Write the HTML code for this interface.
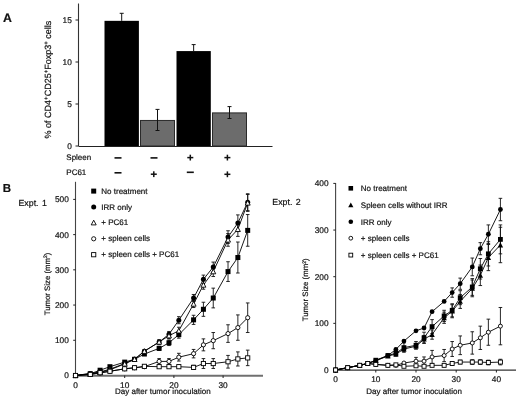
<!DOCTYPE html>
<html><head><meta charset="utf-8"><style>
html,body{margin:0;padding:0;background:#fff;}
body{width:520px;height:399px;overflow:hidden;}
svg{display:block;filter:blur(0.3px);}
text{font-family:"Liberation Sans", sans-serif;stroke:#111;stroke-width:0.2px;text-rendering:geometricPrecision;}
</style></head><body>
<svg width="520" height="399" viewBox="0 0 520 399">
<rect width="520" height="399" fill="#fff"/>
<text x="3" y="21.8" font-size="12.3" font-weight="bold" fill="#111">A</text>
<line x1="78.5" y1="3.5" x2="78.5" y2="146.0" stroke="#333" stroke-width="1.1"/>
<line x1="78.5" y1="146.5" x2="272.5" y2="146.5" stroke="#222" stroke-width="1"/>
<line x1="75.5" y1="146" x2="78.5" y2="146" stroke="#222" stroke-width="1"/>
<text x="71.8" y="149" font-size="8.3" text-anchor="end" fill="#111">0</text>
<line x1="75.5" y1="104" x2="78.5" y2="104" stroke="#222" stroke-width="1"/>
<text x="71.8" y="107" font-size="8.3" text-anchor="end" fill="#111">5</text>
<line x1="75.5" y1="62" x2="78.5" y2="62" stroke="#222" stroke-width="1"/>
<text x="71.8" y="65" font-size="8.3" text-anchor="end" fill="#111">10</text>
<line x1="75.5" y1="20" x2="78.5" y2="20" stroke="#222" stroke-width="1"/>
<text x="71.8" y="23" font-size="8.3" text-anchor="end" fill="#111">15</text>
<rect x="104.5" y="20.84" width="34.4" height="125.16" fill="#000"/>
<line x1="121.7" y1="13.3" x2="121.7" y2="20.84" stroke="#111" stroke-width="1"/>
<line x1="119.7" y1="13.3" x2="123.7" y2="13.3" stroke="#111" stroke-width="1"/>
<rect x="140.5" y="120.46" width="34" height="25.54" fill="#6c6c6c" stroke="#2a2a2a" stroke-width="1"/>
<line x1="157.5" y1="109.4" x2="157.5" y2="130.5" stroke="#111" stroke-width="1"/>
<line x1="155.5" y1="109.4" x2="159.5" y2="109.4" stroke="#111" stroke-width="1"/>
<line x1="155.5" y1="130.5" x2="159.5" y2="130.5" stroke="#111" stroke-width="1"/>
<rect x="176.5" y="51.08" width="34.3" height="94.92" fill="#000"/>
<line x1="193.65" y1="44.6" x2="193.65" y2="51.08" stroke="#111" stroke-width="1"/>
<line x1="191.65" y1="44.6" x2="195.65" y2="44.6" stroke="#111" stroke-width="1"/>
<rect x="212.5" y="112.9" width="34" height="33.1" fill="#6c6c6c" stroke="#2a2a2a" stroke-width="1"/>
<line x1="229.5" y1="106.6" x2="229.5" y2="118.5" stroke="#111" stroke-width="1"/>
<line x1="227.5" y1="106.6" x2="231.5" y2="106.6" stroke="#111" stroke-width="1"/>
<line x1="227.5" y1="118.5" x2="231.5" y2="118.5" stroke="#111" stroke-width="1"/>
<text transform="translate(51,138.4) rotate(-90)" font-size="9" fill="#111">% of CD4<tspan dy="-3.4" font-size="6">+</tspan><tspan dy="3.4">CD25</tspan><tspan dy="-3.4" font-size="6">+</tspan><tspan dy="3.4">Foxp3</tspan><tspan dy="-3.4" font-size="6">+</tspan><tspan dy="3.4"> cells</tspan></text>
<text x="66.3" y="160.3" font-size="8" fill="#111">Spleen</text>
<text x="66.3" y="175.4" font-size="8" fill="#111">PC61</text>
<rect x="114.5" y="157.1" width="7" height="1.6" fill="#111"/>
<rect x="150.5" y="157.1" width="7" height="1.6" fill="#111"/>
<rect x="187.3" y="156.85" width="6" height="1.5" fill="#111"/>
<rect x="189.55" y="154.7" width="1.5" height="5.8" fill="#111"/>
<rect x="224.4" y="156.85" width="6" height="1.5" fill="#111"/>
<rect x="226.65" y="154.7" width="1.5" height="5.8" fill="#111"/>
<rect x="114.5" y="172" width="7" height="1.6" fill="#111"/>
<rect x="150.8" y="173.45" width="6" height="1.5" fill="#111"/>
<rect x="153.05" y="171.3" width="1.5" height="5.8" fill="#111"/>
<rect x="186.8" y="171.5" width="7" height="1.6" fill="#111"/>
<rect x="224.4" y="173.55" width="6" height="1.5" fill="#111"/>
<rect x="226.65" y="171.4" width="1.5" height="5.8" fill="#111"/>
<text x="2.7" y="191.9" font-size="11.5" font-weight="bold" fill="#111">B</text>
<line x1="75.5" y1="181.8" x2="75.5" y2="375.5" stroke="#444" stroke-width="1.1"/>
<line x1="75.5" y1="375.7" x2="263" y2="375.7" stroke="#707070" stroke-width="2.0"/>
<line x1="73.2" y1="375.5" x2="75.5" y2="375.5" stroke="#222" stroke-width="1"/>
<text x="68.8" y="378.4" font-size="8.3" text-anchor="end" fill="#111">0</text>
<line x1="73.2" y1="340.28" x2="75.5" y2="340.28" stroke="#222" stroke-width="1"/>
<text x="68.8" y="343.18" font-size="8.3" text-anchor="end" fill="#111">100</text>
<line x1="73.2" y1="305.06" x2="75.5" y2="305.06" stroke="#222" stroke-width="1"/>
<text x="68.8" y="307.96" font-size="8.3" text-anchor="end" fill="#111">200</text>
<line x1="73.2" y1="269.84" x2="75.5" y2="269.84" stroke="#222" stroke-width="1"/>
<text x="68.8" y="272.74" font-size="8.3" text-anchor="end" fill="#111">300</text>
<line x1="73.2" y1="234.62" x2="75.5" y2="234.62" stroke="#222" stroke-width="1"/>
<text x="68.8" y="237.52" font-size="8.3" text-anchor="end" fill="#111">400</text>
<line x1="73.2" y1="199.4" x2="75.5" y2="199.4" stroke="#222" stroke-width="1"/>
<text x="68.8" y="202.3" font-size="8.3" text-anchor="end" fill="#111">500</text>
<line x1="75.5" y1="375.5" x2="75.5" y2="378.0" stroke="#222" stroke-width="1"/>
<text x="75.5" y="388.1" font-size="8.3" text-anchor="middle" fill="#111">0</text>
<line x1="124.7" y1="375.5" x2="124.7" y2="378.0" stroke="#222" stroke-width="1"/>
<text x="124.7" y="388.1" font-size="8.3" text-anchor="middle" fill="#111">10</text>
<line x1="173.9" y1="375.5" x2="173.9" y2="378.0" stroke="#222" stroke-width="1"/>
<text x="173.9" y="388.1" font-size="8.3" text-anchor="middle" fill="#111">20</text>
<line x1="223.1" y1="375.5" x2="223.1" y2="378.0" stroke="#222" stroke-width="1"/>
<text x="223.1" y="388.1" font-size="8.3" text-anchor="middle" fill="#111">30</text>
<line x1="144.38" y1="352.61" x2="144.38" y2="355.42" stroke="#111" stroke-width="0.9"/>
<line x1="142.58" y1="352.61" x2="146.18" y2="352.61" stroke="#111" stroke-width="0.9"/>
<line x1="142.58" y1="355.42" x2="146.18" y2="355.42" stroke="#111" stroke-width="0.9"/>
<line x1="159.14" y1="346.27" x2="159.14" y2="350.49" stroke="#111" stroke-width="0.9"/>
<line x1="157.34" y1="346.27" x2="160.94" y2="346.27" stroke="#111" stroke-width="0.9"/>
<line x1="157.34" y1="350.49" x2="160.94" y2="350.49" stroke="#111" stroke-width="0.9"/>
<line x1="168.98" y1="339.93" x2="168.98" y2="345.56" stroke="#111" stroke-width="0.9"/>
<line x1="167.18" y1="339.93" x2="170.78" y2="339.93" stroke="#111" stroke-width="0.9"/>
<line x1="167.18" y1="345.56" x2="170.78" y2="345.56" stroke="#111" stroke-width="0.9"/>
<line x1="178.82" y1="331.12" x2="178.82" y2="338.17" stroke="#111" stroke-width="0.9"/>
<line x1="177.02" y1="331.12" x2="180.62" y2="331.12" stroke="#111" stroke-width="0.9"/>
<line x1="177.02" y1="338.17" x2="180.62" y2="338.17" stroke="#111" stroke-width="0.9"/>
<line x1="193.58" y1="315.27" x2="193.58" y2="324.43" stroke="#111" stroke-width="0.9"/>
<line x1="191.78" y1="315.27" x2="195.38" y2="315.27" stroke="#111" stroke-width="0.9"/>
<line x1="191.78" y1="324.43" x2="195.38" y2="324.43" stroke="#111" stroke-width="0.9"/>
<line x1="203.42" y1="302.24" x2="203.42" y2="316.33" stroke="#111" stroke-width="0.9"/>
<line x1="201.62" y1="302.24" x2="205.22" y2="302.24" stroke="#111" stroke-width="0.9"/>
<line x1="201.62" y1="316.33" x2="205.22" y2="316.33" stroke="#111" stroke-width="0.9"/>
<line x1="213.26" y1="288.15" x2="213.26" y2="307.88" stroke="#111" stroke-width="0.9"/>
<line x1="211.46" y1="288.15" x2="215.06" y2="288.15" stroke="#111" stroke-width="0.9"/>
<line x1="211.46" y1="307.88" x2="215.06" y2="307.88" stroke="#111" stroke-width="0.9"/>
<line x1="228.02" y1="261.74" x2="228.02" y2="281.46" stroke="#111" stroke-width="0.9"/>
<line x1="226.22" y1="261.74" x2="229.82" y2="261.74" stroke="#111" stroke-width="0.9"/>
<line x1="226.22" y1="281.46" x2="229.82" y2="281.46" stroke="#111" stroke-width="0.9"/>
<line x1="237.86" y1="242.02" x2="237.86" y2="273.01" stroke="#111" stroke-width="0.9"/>
<line x1="236.06" y1="242.02" x2="239.66" y2="242.02" stroke="#111" stroke-width="0.9"/>
<line x1="236.06" y1="273.01" x2="239.66" y2="273.01" stroke="#111" stroke-width="0.9"/>
<line x1="247.7" y1="214.54" x2="247.7" y2="246.24" stroke="#111" stroke-width="0.9"/>
<line x1="245.9" y1="214.54" x2="249.5" y2="214.54" stroke="#111" stroke-width="0.9"/>
<line x1="245.9" y1="246.24" x2="249.5" y2="246.24" stroke="#111" stroke-width="0.9"/>
<line x1="144.38" y1="349.79" x2="144.38" y2="352.61" stroke="#111" stroke-width="0.9"/>
<line x1="142.58" y1="349.79" x2="146.18" y2="349.79" stroke="#111" stroke-width="0.9"/>
<line x1="142.58" y1="352.61" x2="146.18" y2="352.61" stroke="#111" stroke-width="0.9"/>
<line x1="159.14" y1="339.93" x2="159.14" y2="344.15" stroke="#111" stroke-width="0.9"/>
<line x1="157.34" y1="339.93" x2="160.94" y2="339.93" stroke="#111" stroke-width="0.9"/>
<line x1="157.34" y1="344.15" x2="160.94" y2="344.15" stroke="#111" stroke-width="0.9"/>
<line x1="168.98" y1="331.48" x2="168.98" y2="337.11" stroke="#111" stroke-width="0.9"/>
<line x1="167.18" y1="331.48" x2="170.78" y2="331.48" stroke="#111" stroke-width="0.9"/>
<line x1="167.18" y1="337.11" x2="170.78" y2="337.11" stroke="#111" stroke-width="0.9"/>
<line x1="178.82" y1="316.68" x2="178.82" y2="323.73" stroke="#111" stroke-width="0.9"/>
<line x1="177.02" y1="316.68" x2="180.62" y2="316.68" stroke="#111" stroke-width="0.9"/>
<line x1="177.02" y1="323.73" x2="180.62" y2="323.73" stroke="#111" stroke-width="0.9"/>
<line x1="193.58" y1="294.49" x2="193.58" y2="301.54" stroke="#111" stroke-width="0.9"/>
<line x1="191.78" y1="294.49" x2="195.38" y2="294.49" stroke="#111" stroke-width="0.9"/>
<line x1="191.78" y1="301.54" x2="195.38" y2="301.54" stroke="#111" stroke-width="0.9"/>
<line x1="203.42" y1="275.12" x2="203.42" y2="283.58" stroke="#111" stroke-width="0.9"/>
<line x1="201.62" y1="275.12" x2="205.22" y2="275.12" stroke="#111" stroke-width="0.9"/>
<line x1="201.62" y1="283.58" x2="205.22" y2="283.58" stroke="#111" stroke-width="0.9"/>
<line x1="213.26" y1="262.09" x2="213.26" y2="271.95" stroke="#111" stroke-width="0.9"/>
<line x1="211.46" y1="262.09" x2="215.06" y2="262.09" stroke="#111" stroke-width="0.9"/>
<line x1="211.46" y1="271.95" x2="215.06" y2="271.95" stroke="#111" stroke-width="0.9"/>
<line x1="228.02" y1="230.75" x2="228.02" y2="243.42" stroke="#111" stroke-width="0.9"/>
<line x1="226.22" y1="230.75" x2="229.82" y2="230.75" stroke="#111" stroke-width="0.9"/>
<line x1="226.22" y1="243.42" x2="229.82" y2="243.42" stroke="#111" stroke-width="0.9"/>
<line x1="237.86" y1="214.9" x2="237.86" y2="231.1" stroke="#111" stroke-width="0.9"/>
<line x1="236.06" y1="214.9" x2="239.66" y2="214.9" stroke="#111" stroke-width="0.9"/>
<line x1="236.06" y1="231.1" x2="239.66" y2="231.1" stroke="#111" stroke-width="0.9"/>
<line x1="247.7" y1="193.76" x2="247.7" y2="210.67" stroke="#111" stroke-width="0.9"/>
<line x1="245.9" y1="193.76" x2="249.5" y2="193.76" stroke="#111" stroke-width="0.9"/>
<line x1="245.9" y1="210.67" x2="249.5" y2="210.67" stroke="#111" stroke-width="0.9"/>
<line x1="144.38" y1="349.79" x2="144.38" y2="352.61" stroke="#111" stroke-width="0.9"/>
<line x1="142.58" y1="349.79" x2="146.18" y2="349.79" stroke="#111" stroke-width="0.9"/>
<line x1="142.58" y1="352.61" x2="146.18" y2="352.61" stroke="#111" stroke-width="0.9"/>
<line x1="159.14" y1="339.93" x2="159.14" y2="344.15" stroke="#111" stroke-width="0.9"/>
<line x1="157.34" y1="339.93" x2="160.94" y2="339.93" stroke="#111" stroke-width="0.9"/>
<line x1="157.34" y1="344.15" x2="160.94" y2="344.15" stroke="#111" stroke-width="0.9"/>
<line x1="168.98" y1="332.88" x2="168.98" y2="338.52" stroke="#111" stroke-width="0.9"/>
<line x1="167.18" y1="332.88" x2="170.78" y2="332.88" stroke="#111" stroke-width="0.9"/>
<line x1="167.18" y1="338.52" x2="170.78" y2="338.52" stroke="#111" stroke-width="0.9"/>
<line x1="178.82" y1="327.25" x2="178.82" y2="334.29" stroke="#111" stroke-width="0.9"/>
<line x1="177.02" y1="327.25" x2="180.62" y2="327.25" stroke="#111" stroke-width="0.9"/>
<line x1="177.02" y1="334.29" x2="180.62" y2="334.29" stroke="#111" stroke-width="0.9"/>
<line x1="193.58" y1="300.48" x2="193.58" y2="307.53" stroke="#111" stroke-width="0.9"/>
<line x1="191.78" y1="300.48" x2="195.38" y2="300.48" stroke="#111" stroke-width="0.9"/>
<line x1="191.78" y1="307.53" x2="195.38" y2="307.53" stroke="#111" stroke-width="0.9"/>
<line x1="203.42" y1="280.76" x2="203.42" y2="289.21" stroke="#111" stroke-width="0.9"/>
<line x1="201.62" y1="280.76" x2="205.22" y2="280.76" stroke="#111" stroke-width="0.9"/>
<line x1="201.62" y1="289.21" x2="205.22" y2="289.21" stroke="#111" stroke-width="0.9"/>
<line x1="213.26" y1="266.67" x2="213.26" y2="276.53" stroke="#111" stroke-width="0.9"/>
<line x1="211.46" y1="266.67" x2="215.06" y2="266.67" stroke="#111" stroke-width="0.9"/>
<line x1="211.46" y1="276.53" x2="215.06" y2="276.53" stroke="#111" stroke-width="0.9"/>
<line x1="228.02" y1="233.56" x2="228.02" y2="246.24" stroke="#111" stroke-width="0.9"/>
<line x1="226.22" y1="233.56" x2="229.82" y2="233.56" stroke="#111" stroke-width="0.9"/>
<line x1="226.22" y1="246.24" x2="229.82" y2="246.24" stroke="#111" stroke-width="0.9"/>
<line x1="237.86" y1="222.29" x2="237.86" y2="236.38" stroke="#111" stroke-width="0.9"/>
<line x1="236.06" y1="222.29" x2="239.66" y2="222.29" stroke="#111" stroke-width="0.9"/>
<line x1="236.06" y1="236.38" x2="239.66" y2="236.38" stroke="#111" stroke-width="0.9"/>
<line x1="247.7" y1="194.47" x2="247.7" y2="211.37" stroke="#111" stroke-width="0.9"/>
<line x1="245.9" y1="194.47" x2="249.5" y2="194.47" stroke="#111" stroke-width="0.9"/>
<line x1="245.9" y1="211.37" x2="249.5" y2="211.37" stroke="#111" stroke-width="0.9"/>
<line x1="159.14" y1="358.59" x2="159.14" y2="364.23" stroke="#111" stroke-width="0.9"/>
<line x1="157.34" y1="358.59" x2="160.94" y2="358.59" stroke="#111" stroke-width="0.9"/>
<line x1="157.34" y1="364.23" x2="160.94" y2="364.23" stroke="#111" stroke-width="0.9"/>
<line x1="168.98" y1="358.59" x2="168.98" y2="364.23" stroke="#111" stroke-width="0.9"/>
<line x1="167.18" y1="358.59" x2="170.78" y2="358.59" stroke="#111" stroke-width="0.9"/>
<line x1="167.18" y1="364.23" x2="170.78" y2="364.23" stroke="#111" stroke-width="0.9"/>
<line x1="178.82" y1="353.31" x2="178.82" y2="361.06" stroke="#111" stroke-width="0.9"/>
<line x1="177.02" y1="353.31" x2="180.62" y2="353.31" stroke="#111" stroke-width="0.9"/>
<line x1="177.02" y1="361.06" x2="180.62" y2="361.06" stroke="#111" stroke-width="0.9"/>
<line x1="193.58" y1="349.44" x2="193.58" y2="357.89" stroke="#111" stroke-width="0.9"/>
<line x1="191.78" y1="349.44" x2="195.38" y2="349.44" stroke="#111" stroke-width="0.9"/>
<line x1="191.78" y1="357.89" x2="195.38" y2="357.89" stroke="#111" stroke-width="0.9"/>
<line x1="203.42" y1="338.87" x2="203.42" y2="350.85" stroke="#111" stroke-width="0.9"/>
<line x1="201.62" y1="338.87" x2="205.22" y2="338.87" stroke="#111" stroke-width="0.9"/>
<line x1="201.62" y1="350.85" x2="205.22" y2="350.85" stroke="#111" stroke-width="0.9"/>
<line x1="213.26" y1="332.53" x2="213.26" y2="348.73" stroke="#111" stroke-width="0.9"/>
<line x1="211.46" y1="332.53" x2="215.06" y2="332.53" stroke="#111" stroke-width="0.9"/>
<line x1="211.46" y1="348.73" x2="215.06" y2="348.73" stroke="#111" stroke-width="0.9"/>
<line x1="228.02" y1="324.78" x2="228.02" y2="342.39" stroke="#111" stroke-width="0.9"/>
<line x1="226.22" y1="324.78" x2="229.82" y2="324.78" stroke="#111" stroke-width="0.9"/>
<line x1="226.22" y1="342.39" x2="229.82" y2="342.39" stroke="#111" stroke-width="0.9"/>
<line x1="237.86" y1="314.92" x2="237.86" y2="340.28" stroke="#111" stroke-width="0.9"/>
<line x1="236.06" y1="314.92" x2="239.66" y2="314.92" stroke="#111" stroke-width="0.9"/>
<line x1="236.06" y1="340.28" x2="239.66" y2="340.28" stroke="#111" stroke-width="0.9"/>
<line x1="247.7" y1="302.95" x2="247.7" y2="332.53" stroke="#111" stroke-width="0.9"/>
<line x1="245.9" y1="302.95" x2="249.5" y2="302.95" stroke="#111" stroke-width="0.9"/>
<line x1="245.9" y1="332.53" x2="249.5" y2="332.53" stroke="#111" stroke-width="0.9"/>
<line x1="159.14" y1="365.64" x2="159.14" y2="367.75" stroke="#111" stroke-width="0.9"/>
<line x1="157.34" y1="365.64" x2="160.94" y2="365.64" stroke="#111" stroke-width="0.9"/>
<line x1="157.34" y1="367.75" x2="160.94" y2="367.75" stroke="#111" stroke-width="0.9"/>
<line x1="168.98" y1="365.29" x2="168.98" y2="368.1" stroke="#111" stroke-width="0.9"/>
<line x1="167.18" y1="365.29" x2="170.78" y2="365.29" stroke="#111" stroke-width="0.9"/>
<line x1="167.18" y1="368.1" x2="170.78" y2="368.1" stroke="#111" stroke-width="0.9"/>
<line x1="178.82" y1="364.93" x2="178.82" y2="368.46" stroke="#111" stroke-width="0.9"/>
<line x1="177.02" y1="364.93" x2="180.62" y2="364.93" stroke="#111" stroke-width="0.9"/>
<line x1="177.02" y1="368.46" x2="180.62" y2="368.46" stroke="#111" stroke-width="0.9"/>
<line x1="193.58" y1="365.29" x2="193.58" y2="369.51" stroke="#111" stroke-width="0.9"/>
<line x1="191.78" y1="365.29" x2="195.38" y2="365.29" stroke="#111" stroke-width="0.9"/>
<line x1="191.78" y1="369.51" x2="195.38" y2="369.51" stroke="#111" stroke-width="0.9"/>
<line x1="203.42" y1="358.59" x2="203.42" y2="368.46" stroke="#111" stroke-width="0.9"/>
<line x1="201.62" y1="358.59" x2="205.22" y2="358.59" stroke="#111" stroke-width="0.9"/>
<line x1="201.62" y1="368.46" x2="205.22" y2="368.46" stroke="#111" stroke-width="0.9"/>
<line x1="213.26" y1="358.59" x2="213.26" y2="368.46" stroke="#111" stroke-width="0.9"/>
<line x1="211.46" y1="358.59" x2="215.06" y2="358.59" stroke="#111" stroke-width="0.9"/>
<line x1="211.46" y1="368.46" x2="215.06" y2="368.46" stroke="#111" stroke-width="0.9"/>
<line x1="228.02" y1="355.42" x2="228.02" y2="368.1" stroke="#111" stroke-width="0.9"/>
<line x1="226.22" y1="355.42" x2="229.82" y2="355.42" stroke="#111" stroke-width="0.9"/>
<line x1="226.22" y1="368.1" x2="229.82" y2="368.1" stroke="#111" stroke-width="0.9"/>
<line x1="237.86" y1="351.9" x2="237.86" y2="365.99" stroke="#111" stroke-width="0.9"/>
<line x1="236.06" y1="351.9" x2="239.66" y2="351.9" stroke="#111" stroke-width="0.9"/>
<line x1="236.06" y1="365.99" x2="239.66" y2="365.99" stroke="#111" stroke-width="0.9"/>
<line x1="247.7" y1="350.14" x2="247.7" y2="365.64" stroke="#111" stroke-width="0.9"/>
<line x1="245.9" y1="350.14" x2="249.5" y2="350.14" stroke="#111" stroke-width="0.9"/>
<line x1="245.9" y1="365.64" x2="249.5" y2="365.64" stroke="#111" stroke-width="0.9"/>
<polyline points="75.5,375.5 90.26,373.74 100.1,370.22 109.94,366.69 124.7,362.12 134.54,359.3 144.38,354.02 159.14,348.38 168.98,342.75 178.82,334.64 193.58,319.85 203.42,309.29 213.26,298.02 228.02,271.6 237.86,257.51 247.7,230.39" fill="none" stroke="#000" stroke-width="0.9"/>
<polyline points="75.5,375.5 90.26,373.39 100.1,371.98 109.94,369.16 124.7,363.53 134.54,359.3 144.38,351.2 159.14,342.04 168.98,334.29 178.82,320.2 193.58,298.02 203.42,279.35 213.26,267.02 228.02,237.09 237.86,223 247.7,202.22" fill="none" stroke="#000" stroke-width="0.9"/>
<polyline points="75.5,375.5 90.26,374.09 100.1,372.33 109.94,369.86 124.7,363.88 134.54,359.3 144.38,351.2 159.14,342.04 168.98,335.7 178.82,330.77 193.58,304 203.42,284.98 213.26,271.6 228.02,239.9 237.86,229.34 247.7,202.92" fill="none" stroke="#000" stroke-width="0.9"/>
<polyline points="75.5,375.5 90.26,374.44 100.1,373.03 109.94,371.27 124.7,368.81 134.54,367.75 144.38,366.69 159.14,361.41 168.98,361.41 178.82,357.19 193.58,353.66 203.42,344.86 213.26,340.63 228.02,333.59 237.86,327.6 247.7,317.74" fill="none" stroke="#000" stroke-width="0.9"/>
<polyline points="75.5,375.5 90.26,374.44 100.1,372.68 109.94,371.27 124.7,368.81 134.54,367.75 144.38,366.34 159.14,366.69 168.98,366.69 178.82,366.69 193.58,367.4 203.42,363.53 213.26,363.53 228.02,361.76 237.86,358.95 247.7,357.89" fill="none" stroke="#000" stroke-width="0.9"/>
<rect x="73" y="373" width="5" height="5" fill="#000"/>
<rect x="87.76" y="371.24" width="5" height="5" fill="#000"/>
<rect x="97.6" y="367.72" width="5" height="5" fill="#000"/>
<rect x="107.44" y="364.19" width="5" height="5" fill="#000"/>
<rect x="122.2" y="359.62" width="5" height="5" fill="#000"/>
<rect x="132.04" y="356.8" width="5" height="5" fill="#000"/>
<rect x="141.88" y="351.52" width="5" height="5" fill="#000"/>
<rect x="156.64" y="345.88" width="5" height="5" fill="#000"/>
<rect x="166.48" y="340.25" width="5" height="5" fill="#000"/>
<rect x="176.32" y="332.14" width="5" height="5" fill="#000"/>
<rect x="191.08" y="317.35" width="5" height="5" fill="#000"/>
<rect x="200.92" y="306.79" width="5" height="5" fill="#000"/>
<rect x="210.76" y="295.52" width="5" height="5" fill="#000"/>
<rect x="225.52" y="269.1" width="5" height="5" fill="#000"/>
<rect x="235.36" y="255.01" width="5" height="5" fill="#000"/>
<rect x="245.2" y="227.89" width="5" height="5" fill="#000"/>
<circle cx="75.5" cy="375.5" r="2.5" fill="#000"/>
<circle cx="90.26" cy="373.39" r="2.5" fill="#000"/>
<circle cx="100.1" cy="371.98" r="2.5" fill="#000"/>
<circle cx="109.94" cy="369.16" r="2.5" fill="#000"/>
<circle cx="124.7" cy="363.53" r="2.5" fill="#000"/>
<circle cx="134.54" cy="359.3" r="2.5" fill="#000"/>
<circle cx="144.38" cy="351.2" r="2.5" fill="#000"/>
<circle cx="159.14" cy="342.04" r="2.5" fill="#000"/>
<circle cx="168.98" cy="334.29" r="2.5" fill="#000"/>
<circle cx="178.82" cy="320.2" r="2.5" fill="#000"/>
<circle cx="193.58" cy="298.02" r="2.5" fill="#000"/>
<circle cx="203.42" cy="279.35" r="2.5" fill="#000"/>
<circle cx="213.26" cy="267.02" r="2.5" fill="#000"/>
<circle cx="228.02" cy="237.09" r="2.5" fill="#000"/>
<circle cx="237.86" cy="223" r="2.5" fill="#000"/>
<circle cx="247.7" cy="202.22" r="2.5" fill="#000"/>
<path d="M75.5,373 L78,377.7 L73,377.7 Z" fill="#fff" stroke="#000" stroke-width="0.9"/>
<path d="M90.26,371.59 L92.76,376.29 L87.76,376.29 Z" fill="#fff" stroke="#000" stroke-width="0.9"/>
<path d="M100.1,369.83 L102.6,374.53 L97.6,374.53 Z" fill="#fff" stroke="#000" stroke-width="0.9"/>
<path d="M109.94,367.36 L112.44,372.06 L107.44,372.06 Z" fill="#fff" stroke="#000" stroke-width="0.9"/>
<path d="M124.7,361.38 L127.2,366.08 L122.2,366.08 Z" fill="#fff" stroke="#000" stroke-width="0.9"/>
<path d="M134.54,356.8 L137.04,361.5 L132.04,361.5 Z" fill="#fff" stroke="#000" stroke-width="0.9"/>
<path d="M144.38,348.7 L146.88,353.4 L141.88,353.4 Z" fill="#fff" stroke="#000" stroke-width="0.9"/>
<path d="M159.14,339.54 L161.64,344.24 L156.64,344.24 Z" fill="#fff" stroke="#000" stroke-width="0.9"/>
<path d="M168.98,333.2 L171.48,337.9 L166.48,337.9 Z" fill="#fff" stroke="#000" stroke-width="0.9"/>
<path d="M178.82,328.27 L181.32,332.97 L176.32,332.97 Z" fill="#fff" stroke="#000" stroke-width="0.9"/>
<path d="M193.58,301.5 L196.08,306.2 L191.08,306.2 Z" fill="#fff" stroke="#000" stroke-width="0.9"/>
<path d="M203.42,282.48 L205.92,287.18 L200.92,287.18 Z" fill="#fff" stroke="#000" stroke-width="0.9"/>
<path d="M213.26,269.1 L215.76,273.8 L210.76,273.8 Z" fill="#fff" stroke="#000" stroke-width="0.9"/>
<path d="M228.02,237.4 L230.52,242.1 L225.52,242.1 Z" fill="#fff" stroke="#000" stroke-width="0.9"/>
<path d="M237.86,226.84 L240.36,231.54 L235.36,231.54 Z" fill="#fff" stroke="#000" stroke-width="0.9"/>
<path d="M247.7,200.42 L250.2,205.12 L245.2,205.12 Z" fill="#fff" stroke="#000" stroke-width="0.9"/>
<circle cx="75.5" cy="375.5" r="2.1" fill="#fff" stroke="#000" stroke-width="0.9"/>
<circle cx="90.26" cy="374.44" r="2.1" fill="#fff" stroke="#000" stroke-width="0.9"/>
<circle cx="100.1" cy="373.03" r="2.1" fill="#fff" stroke="#000" stroke-width="0.9"/>
<circle cx="109.94" cy="371.27" r="2.1" fill="#fff" stroke="#000" stroke-width="0.9"/>
<circle cx="124.7" cy="368.81" r="2.1" fill="#fff" stroke="#000" stroke-width="0.9"/>
<circle cx="134.54" cy="367.75" r="2.1" fill="#fff" stroke="#000" stroke-width="0.9"/>
<circle cx="144.38" cy="366.69" r="2.1" fill="#fff" stroke="#000" stroke-width="0.9"/>
<circle cx="159.14" cy="361.41" r="2.1" fill="#fff" stroke="#000" stroke-width="0.9"/>
<circle cx="168.98" cy="361.41" r="2.1" fill="#fff" stroke="#000" stroke-width="0.9"/>
<circle cx="178.82" cy="357.19" r="2.1" fill="#fff" stroke="#000" stroke-width="0.9"/>
<circle cx="193.58" cy="353.66" r="2.1" fill="#fff" stroke="#000" stroke-width="0.9"/>
<circle cx="203.42" cy="344.86" r="2.1" fill="#fff" stroke="#000" stroke-width="0.9"/>
<circle cx="213.26" cy="340.63" r="2.1" fill="#fff" stroke="#000" stroke-width="0.9"/>
<circle cx="228.02" cy="333.59" r="2.1" fill="#fff" stroke="#000" stroke-width="0.9"/>
<circle cx="237.86" cy="327.6" r="2.1" fill="#fff" stroke="#000" stroke-width="0.9"/>
<circle cx="247.7" cy="317.74" r="2.1" fill="#fff" stroke="#000" stroke-width="0.9"/>
<rect x="73.4" y="373.4" width="4.2" height="4.2" fill="#fff" stroke="#000" stroke-width="0.9"/>
<rect x="88.16" y="372.34" width="4.2" height="4.2" fill="#fff" stroke="#000" stroke-width="0.9"/>
<rect x="98" y="370.58" width="4.2" height="4.2" fill="#fff" stroke="#000" stroke-width="0.9"/>
<rect x="107.84" y="369.17" width="4.2" height="4.2" fill="#fff" stroke="#000" stroke-width="0.9"/>
<rect x="122.6" y="366.71" width="4.2" height="4.2" fill="#fff" stroke="#000" stroke-width="0.9"/>
<rect x="132.44" y="365.65" width="4.2" height="4.2" fill="#fff" stroke="#000" stroke-width="0.9"/>
<rect x="142.28" y="364.24" width="4.2" height="4.2" fill="#fff" stroke="#000" stroke-width="0.9"/>
<rect x="157.04" y="364.59" width="4.2" height="4.2" fill="#fff" stroke="#000" stroke-width="0.9"/>
<rect x="166.88" y="364.59" width="4.2" height="4.2" fill="#fff" stroke="#000" stroke-width="0.9"/>
<rect x="176.72" y="364.59" width="4.2" height="4.2" fill="#fff" stroke="#000" stroke-width="0.9"/>
<rect x="191.48" y="365.3" width="4.2" height="4.2" fill="#fff" stroke="#000" stroke-width="0.9"/>
<rect x="201.32" y="361.43" width="4.2" height="4.2" fill="#fff" stroke="#000" stroke-width="0.9"/>
<rect x="211.16" y="361.43" width="4.2" height="4.2" fill="#fff" stroke="#000" stroke-width="0.9"/>
<rect x="225.92" y="359.66" width="4.2" height="4.2" fill="#fff" stroke="#000" stroke-width="0.9"/>
<rect x="235.76" y="356.85" width="4.2" height="4.2" fill="#fff" stroke="#000" stroke-width="0.9"/>
<rect x="245.6" y="355.79" width="4.2" height="4.2" fill="#fff" stroke="#000" stroke-width="0.9"/>
<text transform="translate(49.9,315.3) rotate(-90)" font-size="7.8" fill="#111">Tumor Size (mm<tspan dy="-2.6" font-size="5">2</tspan><tspan dy="2.6">)</tspan></text>
<text x="115" y="394.3" font-size="8" fill="#111">Day after tumor inoculation</text>
<text x="18.5" y="205.8" font-size="8.8" fill="#111">Expt.<tspan dx="3.4">1</tspan></text>
<rect x="91.2" y="188.6" width="5" height="5" fill="#000"/>
<text x="101.3" y="193.7" font-size="8" fill="#111">No treatment</text>
<circle cx="93.7" cy="207" r="2.5" fill="#000"/>
<text x="101.3" y="209.6" font-size="8" fill="#111">IRR only</text>
<path d="M93.7,220.2 L96.2,224.9 L91.2,224.9 Z" fill="#fff" stroke="#000" stroke-width="0.9"/>
<text x="101.3" y="225.3" font-size="8" fill="#111">+ PC61</text>
<circle cx="93.7" cy="238.8" r="2.1" fill="#fff" stroke="#000" stroke-width="0.9"/>
<text x="101.3" y="241.4" font-size="8" fill="#111">+ spleen cells</text>
<rect x="91.6" y="252.6" width="4.2" height="4.2" fill="#fff" stroke="#000" stroke-width="0.9"/>
<text x="101.3" y="257.3" font-size="8" fill="#111">+ spleen cells + PC61</text>
<line x1="335.6" y1="183.0" x2="335.6" y2="370.0" stroke="#444" stroke-width="1.1"/>
<line x1="335.6" y1="370.1" x2="516" y2="370.1" stroke="#333" stroke-width="1.2"/>
<line x1="333.3" y1="370" x2="335.6" y2="370" stroke="#222" stroke-width="1"/>
<text x="328.6" y="372.9" font-size="8.3" text-anchor="end" fill="#111">0</text>
<line x1="333.3" y1="323.35" x2="335.6" y2="323.35" stroke="#222" stroke-width="1"/>
<text x="328.6" y="326.25" font-size="8.3" text-anchor="end" fill="#111">100</text>
<line x1="333.3" y1="276.7" x2="335.6" y2="276.7" stroke="#222" stroke-width="1"/>
<text x="328.6" y="279.6" font-size="8.3" text-anchor="end" fill="#111">200</text>
<line x1="333.3" y1="230.05" x2="335.6" y2="230.05" stroke="#222" stroke-width="1"/>
<text x="328.6" y="232.95" font-size="8.3" text-anchor="end" fill="#111">300</text>
<line x1="333.3" y1="183.4" x2="335.6" y2="183.4" stroke="#222" stroke-width="1"/>
<text x="328.6" y="186.3" font-size="8.3" text-anchor="end" fill="#111">400</text>
<line x1="335.6" y1="370.0" x2="335.6" y2="372.5" stroke="#222" stroke-width="1"/>
<text x="335.6" y="382.3" font-size="8.3" text-anchor="middle" fill="#111">0</text>
<line x1="375.8" y1="370.0" x2="375.8" y2="372.5" stroke="#222" stroke-width="1"/>
<text x="375.8" y="382.3" font-size="8.3" text-anchor="middle" fill="#111">10</text>
<line x1="416" y1="370.0" x2="416" y2="372.5" stroke="#222" stroke-width="1"/>
<text x="416" y="382.3" font-size="8.3" text-anchor="middle" fill="#111">20</text>
<line x1="456.2" y1="370.0" x2="456.2" y2="372.5" stroke="#222" stroke-width="1"/>
<text x="456.2" y="382.3" font-size="8.3" text-anchor="middle" fill="#111">30</text>
<line x1="496.4" y1="370.0" x2="496.4" y2="372.5" stroke="#222" stroke-width="1"/>
<text x="496.4" y="382.3" font-size="8.3" text-anchor="middle" fill="#111">40</text>
<line x1="387.86" y1="354.14" x2="387.86" y2="356.94" stroke="#111" stroke-width="0.9"/>
<line x1="386.06" y1="354.14" x2="389.66" y2="354.14" stroke="#111" stroke-width="0.9"/>
<line x1="386.06" y1="356.94" x2="389.66" y2="356.94" stroke="#111" stroke-width="0.9"/>
<line x1="395.9" y1="350.41" x2="395.9" y2="356" stroke="#111" stroke-width="0.9"/>
<line x1="394.1" y1="350.41" x2="397.7" y2="350.41" stroke="#111" stroke-width="0.9"/>
<line x1="394.1" y1="356" x2="397.7" y2="356" stroke="#111" stroke-width="0.9"/>
<line x1="403.94" y1="342.94" x2="403.94" y2="352.27" stroke="#111" stroke-width="0.9"/>
<line x1="402.14" y1="342.94" x2="405.74" y2="342.94" stroke="#111" stroke-width="0.9"/>
<line x1="402.14" y1="352.27" x2="405.74" y2="352.27" stroke="#111" stroke-width="0.9"/>
<line x1="416" y1="341.54" x2="416" y2="349.01" stroke="#111" stroke-width="0.9"/>
<line x1="414.2" y1="341.54" x2="417.8" y2="341.54" stroke="#111" stroke-width="0.9"/>
<line x1="414.2" y1="349.01" x2="417.8" y2="349.01" stroke="#111" stroke-width="0.9"/>
<line x1="424.04" y1="332.21" x2="424.04" y2="343.41" stroke="#111" stroke-width="0.9"/>
<line x1="422.24" y1="332.21" x2="425.84" y2="332.21" stroke="#111" stroke-width="0.9"/>
<line x1="422.24" y1="343.41" x2="425.84" y2="343.41" stroke="#111" stroke-width="0.9"/>
<line x1="432.08" y1="319.62" x2="432.08" y2="333.61" stroke="#111" stroke-width="0.9"/>
<line x1="430.28" y1="319.62" x2="433.88" y2="319.62" stroke="#111" stroke-width="0.9"/>
<line x1="430.28" y1="333.61" x2="433.88" y2="333.61" stroke="#111" stroke-width="0.9"/>
<line x1="444.14" y1="310.29" x2="444.14" y2="321.48" stroke="#111" stroke-width="0.9"/>
<line x1="442.34" y1="310.29" x2="445.94" y2="310.29" stroke="#111" stroke-width="0.9"/>
<line x1="442.34" y1="321.48" x2="445.94" y2="321.48" stroke="#111" stroke-width="0.9"/>
<line x1="452.18" y1="303.76" x2="452.18" y2="316.82" stroke="#111" stroke-width="0.9"/>
<line x1="450.38" y1="303.76" x2="453.98" y2="303.76" stroke="#111" stroke-width="0.9"/>
<line x1="450.38" y1="316.82" x2="453.98" y2="316.82" stroke="#111" stroke-width="0.9"/>
<line x1="460.22" y1="290.69" x2="460.22" y2="304.69" stroke="#111" stroke-width="0.9"/>
<line x1="458.42" y1="290.69" x2="462.02" y2="290.69" stroke="#111" stroke-width="0.9"/>
<line x1="458.42" y1="304.69" x2="462.02" y2="304.69" stroke="#111" stroke-width="0.9"/>
<line x1="472.28" y1="278.57" x2="472.28" y2="295.36" stroke="#111" stroke-width="0.9"/>
<line x1="470.48" y1="278.57" x2="474.08" y2="278.57" stroke="#111" stroke-width="0.9"/>
<line x1="470.48" y1="295.36" x2="474.08" y2="295.36" stroke="#111" stroke-width="0.9"/>
<line x1="480.32" y1="258.51" x2="480.32" y2="279.03" stroke="#111" stroke-width="0.9"/>
<line x1="478.52" y1="258.51" x2="482.12" y2="258.51" stroke="#111" stroke-width="0.9"/>
<line x1="478.52" y1="279.03" x2="482.12" y2="279.03" stroke="#111" stroke-width="0.9"/>
<line x1="488.36" y1="241.71" x2="488.36" y2="265.97" stroke="#111" stroke-width="0.9"/>
<line x1="486.56" y1="241.71" x2="490.16" y2="241.71" stroke="#111" stroke-width="0.9"/>
<line x1="486.56" y1="265.97" x2="490.16" y2="265.97" stroke="#111" stroke-width="0.9"/>
<line x1="500.42" y1="224.92" x2="500.42" y2="253.84" stroke="#111" stroke-width="0.9"/>
<line x1="498.62" y1="224.92" x2="502.22" y2="224.92" stroke="#111" stroke-width="0.9"/>
<line x1="498.62" y1="253.84" x2="502.22" y2="253.84" stroke="#111" stroke-width="0.9"/>
<line x1="387.86" y1="354.61" x2="387.86" y2="357.4" stroke="#111" stroke-width="0.9"/>
<line x1="386.06" y1="354.61" x2="389.66" y2="354.61" stroke="#111" stroke-width="0.9"/>
<line x1="386.06" y1="357.4" x2="389.66" y2="357.4" stroke="#111" stroke-width="0.9"/>
<line x1="395.9" y1="352.27" x2="395.9" y2="356" stroke="#111" stroke-width="0.9"/>
<line x1="394.1" y1="352.27" x2="397.7" y2="352.27" stroke="#111" stroke-width="0.9"/>
<line x1="394.1" y1="356" x2="397.7" y2="356" stroke="#111" stroke-width="0.9"/>
<line x1="403.94" y1="346.68" x2="403.94" y2="351.34" stroke="#111" stroke-width="0.9"/>
<line x1="402.14" y1="346.68" x2="405.74" y2="346.68" stroke="#111" stroke-width="0.9"/>
<line x1="402.14" y1="351.34" x2="405.74" y2="351.34" stroke="#111" stroke-width="0.9"/>
<line x1="416" y1="343.41" x2="416" y2="349.01" stroke="#111" stroke-width="0.9"/>
<line x1="414.2" y1="343.41" x2="417.8" y2="343.41" stroke="#111" stroke-width="0.9"/>
<line x1="414.2" y1="349.01" x2="417.8" y2="349.01" stroke="#111" stroke-width="0.9"/>
<line x1="424.04" y1="335.48" x2="424.04" y2="342.94" stroke="#111" stroke-width="0.9"/>
<line x1="422.24" y1="335.48" x2="425.84" y2="335.48" stroke="#111" stroke-width="0.9"/>
<line x1="422.24" y1="342.94" x2="425.84" y2="342.94" stroke="#111" stroke-width="0.9"/>
<line x1="432.08" y1="329.88" x2="432.08" y2="339.21" stroke="#111" stroke-width="0.9"/>
<line x1="430.28" y1="329.88" x2="433.88" y2="329.88" stroke="#111" stroke-width="0.9"/>
<line x1="430.28" y1="339.21" x2="433.88" y2="339.21" stroke="#111" stroke-width="0.9"/>
<line x1="444.14" y1="312.15" x2="444.14" y2="323.35" stroke="#111" stroke-width="0.9"/>
<line x1="442.34" y1="312.15" x2="445.94" y2="312.15" stroke="#111" stroke-width="0.9"/>
<line x1="442.34" y1="323.35" x2="445.94" y2="323.35" stroke="#111" stroke-width="0.9"/>
<line x1="452.18" y1="304.69" x2="452.18" y2="317.75" stroke="#111" stroke-width="0.9"/>
<line x1="450.38" y1="304.69" x2="453.98" y2="304.69" stroke="#111" stroke-width="0.9"/>
<line x1="450.38" y1="317.75" x2="453.98" y2="317.75" stroke="#111" stroke-width="0.9"/>
<line x1="460.22" y1="294.43" x2="460.22" y2="308.42" stroke="#111" stroke-width="0.9"/>
<line x1="458.42" y1="294.43" x2="462.02" y2="294.43" stroke="#111" stroke-width="0.9"/>
<line x1="458.42" y1="308.42" x2="462.02" y2="308.42" stroke="#111" stroke-width="0.9"/>
<line x1="472.28" y1="279.97" x2="472.28" y2="296.76" stroke="#111" stroke-width="0.9"/>
<line x1="470.48" y1="279.97" x2="474.08" y2="279.97" stroke="#111" stroke-width="0.9"/>
<line x1="470.48" y1="296.76" x2="474.08" y2="296.76" stroke="#111" stroke-width="0.9"/>
<line x1="480.32" y1="265.04" x2="480.32" y2="285.56" stroke="#111" stroke-width="0.9"/>
<line x1="478.52" y1="265.04" x2="482.12" y2="265.04" stroke="#111" stroke-width="0.9"/>
<line x1="478.52" y1="285.56" x2="482.12" y2="285.56" stroke="#111" stroke-width="0.9"/>
<line x1="488.36" y1="244.51" x2="488.36" y2="270.64" stroke="#111" stroke-width="0.9"/>
<line x1="486.56" y1="244.51" x2="490.16" y2="244.51" stroke="#111" stroke-width="0.9"/>
<line x1="486.56" y1="270.64" x2="490.16" y2="270.64" stroke="#111" stroke-width="0.9"/>
<line x1="500.42" y1="227.25" x2="500.42" y2="262.7" stroke="#111" stroke-width="0.9"/>
<line x1="498.62" y1="227.25" x2="502.22" y2="227.25" stroke="#111" stroke-width="0.9"/>
<line x1="498.62" y1="262.7" x2="502.22" y2="262.7" stroke="#111" stroke-width="0.9"/>
<line x1="452.18" y1="287.9" x2="452.18" y2="297.23" stroke="#111" stroke-width="0.9"/>
<line x1="450.38" y1="287.9" x2="453.98" y2="287.9" stroke="#111" stroke-width="0.9"/>
<line x1="450.38" y1="297.23" x2="453.98" y2="297.23" stroke="#111" stroke-width="0.9"/>
<line x1="460.22" y1="278.1" x2="460.22" y2="289.3" stroke="#111" stroke-width="0.9"/>
<line x1="458.42" y1="278.1" x2="462.02" y2="278.1" stroke="#111" stroke-width="0.9"/>
<line x1="458.42" y1="289.3" x2="462.02" y2="289.3" stroke="#111" stroke-width="0.9"/>
<line x1="472.28" y1="258.04" x2="472.28" y2="275.77" stroke="#111" stroke-width="0.9"/>
<line x1="470.48" y1="258.04" x2="474.08" y2="258.04" stroke="#111" stroke-width="0.9"/>
<line x1="470.48" y1="275.77" x2="474.08" y2="275.77" stroke="#111" stroke-width="0.9"/>
<line x1="480.32" y1="242.65" x2="480.32" y2="254.77" stroke="#111" stroke-width="0.9"/>
<line x1="478.52" y1="242.65" x2="482.12" y2="242.65" stroke="#111" stroke-width="0.9"/>
<line x1="478.52" y1="254.77" x2="482.12" y2="254.77" stroke="#111" stroke-width="0.9"/>
<line x1="488.36" y1="224.92" x2="488.36" y2="243.58" stroke="#111" stroke-width="0.9"/>
<line x1="486.56" y1="224.92" x2="490.16" y2="224.92" stroke="#111" stroke-width="0.9"/>
<line x1="486.56" y1="243.58" x2="490.16" y2="243.58" stroke="#111" stroke-width="0.9"/>
<line x1="500.42" y1="198.33" x2="500.42" y2="220.72" stroke="#111" stroke-width="0.9"/>
<line x1="498.62" y1="198.33" x2="502.22" y2="198.33" stroke="#111" stroke-width="0.9"/>
<line x1="498.62" y1="220.72" x2="502.22" y2="220.72" stroke="#111" stroke-width="0.9"/>
<line x1="416" y1="357.4" x2="416" y2="364.87" stroke="#111" stroke-width="0.9"/>
<line x1="414.2" y1="357.4" x2="417.8" y2="357.4" stroke="#111" stroke-width="0.9"/>
<line x1="414.2" y1="364.87" x2="417.8" y2="364.87" stroke="#111" stroke-width="0.9"/>
<line x1="424.04" y1="356.94" x2="424.04" y2="365.33" stroke="#111" stroke-width="0.9"/>
<line x1="422.24" y1="356.94" x2="425.84" y2="356.94" stroke="#111" stroke-width="0.9"/>
<line x1="422.24" y1="365.33" x2="425.84" y2="365.33" stroke="#111" stroke-width="0.9"/>
<line x1="432.08" y1="350.41" x2="432.08" y2="363.47" stroke="#111" stroke-width="0.9"/>
<line x1="430.28" y1="350.41" x2="433.88" y2="350.41" stroke="#111" stroke-width="0.9"/>
<line x1="430.28" y1="363.47" x2="433.88" y2="363.47" stroke="#111" stroke-width="0.9"/>
<line x1="444.14" y1="349.47" x2="444.14" y2="361.6" stroke="#111" stroke-width="0.9"/>
<line x1="442.34" y1="349.47" x2="445.94" y2="349.47" stroke="#111" stroke-width="0.9"/>
<line x1="442.34" y1="361.6" x2="445.94" y2="361.6" stroke="#111" stroke-width="0.9"/>
<line x1="452.18" y1="341.54" x2="452.18" y2="356.47" stroke="#111" stroke-width="0.9"/>
<line x1="450.38" y1="341.54" x2="453.98" y2="341.54" stroke="#111" stroke-width="0.9"/>
<line x1="450.38" y1="356.47" x2="453.98" y2="356.47" stroke="#111" stroke-width="0.9"/>
<line x1="460.22" y1="335.95" x2="460.22" y2="354.61" stroke="#111" stroke-width="0.9"/>
<line x1="458.42" y1="335.95" x2="462.02" y2="335.95" stroke="#111" stroke-width="0.9"/>
<line x1="458.42" y1="354.61" x2="462.02" y2="354.61" stroke="#111" stroke-width="0.9"/>
<line x1="472.28" y1="331.75" x2="472.28" y2="354.14" stroke="#111" stroke-width="0.9"/>
<line x1="470.48" y1="331.75" x2="474.08" y2="331.75" stroke="#111" stroke-width="0.9"/>
<line x1="470.48" y1="354.14" x2="474.08" y2="354.14" stroke="#111" stroke-width="0.9"/>
<line x1="480.32" y1="326.15" x2="480.32" y2="349.47" stroke="#111" stroke-width="0.9"/>
<line x1="478.52" y1="326.15" x2="482.12" y2="326.15" stroke="#111" stroke-width="0.9"/>
<line x1="478.52" y1="349.47" x2="482.12" y2="349.47" stroke="#111" stroke-width="0.9"/>
<line x1="488.36" y1="319.15" x2="488.36" y2="345.28" stroke="#111" stroke-width="0.9"/>
<line x1="486.56" y1="319.15" x2="490.16" y2="319.15" stroke="#111" stroke-width="0.9"/>
<line x1="486.56" y1="345.28" x2="490.16" y2="345.28" stroke="#111" stroke-width="0.9"/>
<line x1="500.42" y1="307.49" x2="500.42" y2="344.81" stroke="#111" stroke-width="0.9"/>
<line x1="498.62" y1="307.49" x2="502.22" y2="307.49" stroke="#111" stroke-width="0.9"/>
<line x1="498.62" y1="344.81" x2="502.22" y2="344.81" stroke="#111" stroke-width="0.9"/>
<line x1="444.14" y1="363.94" x2="444.14" y2="366.73" stroke="#111" stroke-width="0.9"/>
<line x1="442.34" y1="363.94" x2="445.94" y2="363.94" stroke="#111" stroke-width="0.9"/>
<line x1="442.34" y1="366.73" x2="445.94" y2="366.73" stroke="#111" stroke-width="0.9"/>
<line x1="452.18" y1="361.6" x2="452.18" y2="365.33" stroke="#111" stroke-width="0.9"/>
<line x1="450.38" y1="361.6" x2="453.98" y2="361.6" stroke="#111" stroke-width="0.9"/>
<line x1="450.38" y1="365.33" x2="453.98" y2="365.33" stroke="#111" stroke-width="0.9"/>
<line x1="460.22" y1="360.2" x2="460.22" y2="363.94" stroke="#111" stroke-width="0.9"/>
<line x1="458.42" y1="360.2" x2="462.02" y2="360.2" stroke="#111" stroke-width="0.9"/>
<line x1="458.42" y1="363.94" x2="462.02" y2="363.94" stroke="#111" stroke-width="0.9"/>
<line x1="472.28" y1="359.74" x2="472.28" y2="364.4" stroke="#111" stroke-width="0.9"/>
<line x1="470.48" y1="359.74" x2="474.08" y2="359.74" stroke="#111" stroke-width="0.9"/>
<line x1="470.48" y1="364.4" x2="474.08" y2="364.4" stroke="#111" stroke-width="0.9"/>
<line x1="480.32" y1="359.74" x2="480.32" y2="364.4" stroke="#111" stroke-width="0.9"/>
<line x1="478.52" y1="359.74" x2="482.12" y2="359.74" stroke="#111" stroke-width="0.9"/>
<line x1="478.52" y1="364.4" x2="482.12" y2="364.4" stroke="#111" stroke-width="0.9"/>
<line x1="488.36" y1="360.2" x2="488.36" y2="364.87" stroke="#111" stroke-width="0.9"/>
<line x1="486.56" y1="360.2" x2="490.16" y2="360.2" stroke="#111" stroke-width="0.9"/>
<line x1="486.56" y1="364.87" x2="490.16" y2="364.87" stroke="#111" stroke-width="0.9"/>
<line x1="500.42" y1="359.27" x2="500.42" y2="364.87" stroke="#111" stroke-width="0.9"/>
<line x1="498.62" y1="359.27" x2="502.22" y2="359.27" stroke="#111" stroke-width="0.9"/>
<line x1="498.62" y1="364.87" x2="502.22" y2="364.87" stroke="#111" stroke-width="0.9"/>
<polyline points="335.6,370 347.66,367.67 359.72,365.33 367.76,363.47 375.8,360.2 387.86,355.54 395.9,353.21 403.94,347.61 416,345.28 424.04,337.81 432.08,326.62 444.14,315.89 452.18,310.29 460.22,297.69 472.28,286.96 480.32,268.77 488.36,253.84 500.42,239.38" fill="none" stroke="#000" stroke-width="0.9"/>
<polyline points="335.6,370 347.66,367.67 359.72,365.33 367.76,363.47 375.8,360.67 387.86,356 395.9,354.14 403.94,349.01 416,346.21 424.04,339.21 432.08,334.55 444.14,317.75 452.18,311.22 460.22,301.42 472.28,288.36 480.32,275.3 488.36,257.57 500.42,244.98" fill="none" stroke="#000" stroke-width="0.9"/>
<polyline points="335.6,370 347.66,367.67 359.72,365.33 367.76,363.47 375.8,360.67 387.86,355.54 395.9,349.47 403.94,341.08 416,330.81 424.04,328.01 432.08,311.69 444.14,301.42 452.18,292.56 460.22,283.7 472.28,266.9 480.32,248.71 488.36,234.25 500.42,209.52" fill="none" stroke="#000" stroke-width="0.9"/>
<polyline points="335.6,370 347.66,367.67 359.72,365.33 367.76,363.47 375.8,364.4 387.86,365.33 395.9,365.33 403.94,363 416,361.14 424.04,361.14 432.08,356.94 444.14,355.54 452.18,349.01 460.22,345.28 472.28,342.94 480.32,337.81 488.36,332.21 500.42,326.15" fill="none" stroke="#000" stroke-width="0.9"/>
<polyline points="335.6,370 347.66,367.67 359.72,365.33 367.76,363.47 375.8,364.4 387.86,365.33 395.9,364.87 403.94,366.27 416,365.8 424.04,366.27 432.08,365.33 444.14,365.33 452.18,363.47 460.22,362.07 472.28,362.07 480.32,362.07 488.36,362.54 500.42,362.07" fill="none" stroke="#000" stroke-width="0.9"/>
<rect x="333.2" y="367.6" width="4.8" height="4.8" fill="#000"/>
<rect x="345.26" y="365.27" width="4.8" height="4.8" fill="#000"/>
<rect x="357.32" y="362.94" width="4.8" height="4.8" fill="#000"/>
<rect x="365.36" y="361.07" width="4.8" height="4.8" fill="#000"/>
<rect x="373.4" y="357.8" width="4.8" height="4.8" fill="#000"/>
<rect x="385.46" y="353.14" width="4.8" height="4.8" fill="#000"/>
<rect x="393.5" y="350.81" width="4.8" height="4.8" fill="#000"/>
<rect x="401.54" y="345.21" width="4.8" height="4.8" fill="#000"/>
<rect x="413.6" y="342.88" width="4.8" height="4.8" fill="#000"/>
<rect x="421.64" y="335.41" width="4.8" height="4.8" fill="#000"/>
<rect x="429.68" y="324.22" width="4.8" height="4.8" fill="#000"/>
<rect x="441.74" y="313.49" width="4.8" height="4.8" fill="#000"/>
<rect x="449.78" y="307.89" width="4.8" height="4.8" fill="#000"/>
<rect x="457.82" y="295.29" width="4.8" height="4.8" fill="#000"/>
<rect x="469.88" y="284.56" width="4.8" height="4.8" fill="#000"/>
<rect x="477.92" y="266.37" width="4.8" height="4.8" fill="#000"/>
<rect x="485.96" y="251.44" width="4.8" height="4.8" fill="#000"/>
<rect x="498.02" y="236.98" width="4.8" height="4.8" fill="#000"/>
<path d="M335.6,367.3 L338.3,372.4 L332.9,372.4 Z" fill="#000"/>
<path d="M347.66,364.97 L350.36,370.07 L344.96,370.07 Z" fill="#000"/>
<path d="M359.72,362.63 L362.42,367.73 L357.02,367.73 Z" fill="#000"/>
<path d="M367.76,360.77 L370.46,365.87 L365.06,365.87 Z" fill="#000"/>
<path d="M375.8,357.97 L378.5,363.07 L373.1,363.07 Z" fill="#000"/>
<path d="M387.86,353.31 L390.56,358.4 L385.16,358.4 Z" fill="#000"/>
<path d="M395.9,351.44 L398.6,356.54 L393.2,356.54 Z" fill="#000"/>
<path d="M403.94,346.31 L406.64,351.41 L401.24,351.41 Z" fill="#000"/>
<path d="M416,343.51 L418.7,348.61 L413.3,348.61 Z" fill="#000"/>
<path d="M424.04,336.51 L426.74,341.61 L421.34,341.61 Z" fill="#000"/>
<path d="M432.08,331.85 L434.78,336.95 L429.38,336.95 Z" fill="#000"/>
<path d="M444.14,315.05 L446.84,320.15 L441.44,320.15 Z" fill="#000"/>
<path d="M452.18,308.52 L454.88,313.62 L449.48,313.62 Z" fill="#000"/>
<path d="M460.22,298.72 L462.92,303.82 L457.52,303.82 Z" fill="#000"/>
<path d="M472.28,285.66 L474.98,290.76 L469.58,290.76 Z" fill="#000"/>
<path d="M480.32,272.6 L483.02,277.7 L477.62,277.7 Z" fill="#000"/>
<path d="M488.36,254.87 L491.06,259.97 L485.66,259.97 Z" fill="#000"/>
<path d="M500.42,242.28 L503.12,247.38 L497.72,247.38 Z" fill="#000"/>
<circle cx="335.6" cy="370" r="2.4" fill="#000"/>
<circle cx="347.66" cy="367.67" r="2.4" fill="#000"/>
<circle cx="359.72" cy="365.33" r="2.4" fill="#000"/>
<circle cx="367.76" cy="363.47" r="2.4" fill="#000"/>
<circle cx="375.8" cy="360.67" r="2.4" fill="#000"/>
<circle cx="387.86" cy="355.54" r="2.4" fill="#000"/>
<circle cx="395.9" cy="349.47" r="2.4" fill="#000"/>
<circle cx="403.94" cy="341.08" r="2.4" fill="#000"/>
<circle cx="416" cy="330.81" r="2.4" fill="#000"/>
<circle cx="424.04" cy="328.01" r="2.4" fill="#000"/>
<circle cx="432.08" cy="311.69" r="2.4" fill="#000"/>
<circle cx="444.14" cy="301.42" r="2.4" fill="#000"/>
<circle cx="452.18" cy="292.56" r="2.4" fill="#000"/>
<circle cx="460.22" cy="283.7" r="2.4" fill="#000"/>
<circle cx="472.28" cy="266.9" r="2.4" fill="#000"/>
<circle cx="480.32" cy="248.71" r="2.4" fill="#000"/>
<circle cx="488.36" cy="234.25" r="2.4" fill="#000"/>
<circle cx="500.42" cy="209.52" r="2.4" fill="#000"/>
<circle cx="335.6" cy="370" r="2" fill="#fff" stroke="#000" stroke-width="0.9"/>
<circle cx="347.66" cy="367.67" r="2" fill="#fff" stroke="#000" stroke-width="0.9"/>
<circle cx="359.72" cy="365.33" r="2" fill="#fff" stroke="#000" stroke-width="0.9"/>
<circle cx="367.76" cy="363.47" r="2" fill="#fff" stroke="#000" stroke-width="0.9"/>
<circle cx="375.8" cy="364.4" r="2" fill="#fff" stroke="#000" stroke-width="0.9"/>
<circle cx="387.86" cy="365.33" r="2" fill="#fff" stroke="#000" stroke-width="0.9"/>
<circle cx="395.9" cy="365.33" r="2" fill="#fff" stroke="#000" stroke-width="0.9"/>
<circle cx="403.94" cy="363" r="2" fill="#fff" stroke="#000" stroke-width="0.9"/>
<circle cx="416" cy="361.14" r="2" fill="#fff" stroke="#000" stroke-width="0.9"/>
<circle cx="424.04" cy="361.14" r="2" fill="#fff" stroke="#000" stroke-width="0.9"/>
<circle cx="432.08" cy="356.94" r="2" fill="#fff" stroke="#000" stroke-width="0.9"/>
<circle cx="444.14" cy="355.54" r="2" fill="#fff" stroke="#000" stroke-width="0.9"/>
<circle cx="452.18" cy="349.01" r="2" fill="#fff" stroke="#000" stroke-width="0.9"/>
<circle cx="460.22" cy="345.28" r="2" fill="#fff" stroke="#000" stroke-width="0.9"/>
<circle cx="472.28" cy="342.94" r="2" fill="#fff" stroke="#000" stroke-width="0.9"/>
<circle cx="480.32" cy="337.81" r="2" fill="#fff" stroke="#000" stroke-width="0.9"/>
<circle cx="488.36" cy="332.21" r="2" fill="#fff" stroke="#000" stroke-width="0.9"/>
<circle cx="500.42" cy="326.15" r="2" fill="#fff" stroke="#000" stroke-width="0.9"/>
<rect x="333.6" y="368" width="4" height="4" fill="#fff" stroke="#000" stroke-width="0.9"/>
<rect x="345.66" y="365.67" width="4" height="4" fill="#fff" stroke="#000" stroke-width="0.9"/>
<rect x="357.72" y="363.33" width="4" height="4" fill="#fff" stroke="#000" stroke-width="0.9"/>
<rect x="365.76" y="361.47" width="4" height="4" fill="#fff" stroke="#000" stroke-width="0.9"/>
<rect x="373.8" y="362.4" width="4" height="4" fill="#fff" stroke="#000" stroke-width="0.9"/>
<rect x="385.86" y="363.33" width="4" height="4" fill="#fff" stroke="#000" stroke-width="0.9"/>
<rect x="393.9" y="362.87" width="4" height="4" fill="#fff" stroke="#000" stroke-width="0.9"/>
<rect x="401.94" y="364.27" width="4" height="4" fill="#fff" stroke="#000" stroke-width="0.9"/>
<rect x="414" y="363.8" width="4" height="4" fill="#fff" stroke="#000" stroke-width="0.9"/>
<rect x="422.04" y="364.27" width="4" height="4" fill="#fff" stroke="#000" stroke-width="0.9"/>
<rect x="430.08" y="363.33" width="4" height="4" fill="#fff" stroke="#000" stroke-width="0.9"/>
<rect x="442.14" y="363.33" width="4" height="4" fill="#fff" stroke="#000" stroke-width="0.9"/>
<rect x="450.18" y="361.47" width="4" height="4" fill="#fff" stroke="#000" stroke-width="0.9"/>
<rect x="458.22" y="360.07" width="4" height="4" fill="#fff" stroke="#000" stroke-width="0.9"/>
<rect x="470.28" y="360.07" width="4" height="4" fill="#fff" stroke="#000" stroke-width="0.9"/>
<rect x="478.32" y="360.07" width="4" height="4" fill="#fff" stroke="#000" stroke-width="0.9"/>
<rect x="486.36" y="360.54" width="4" height="4" fill="#fff" stroke="#000" stroke-width="0.9"/>
<rect x="498.42" y="360.07" width="4" height="4" fill="#fff" stroke="#000" stroke-width="0.9"/>
<text transform="translate(308.2,321.2) rotate(-90)" font-size="7.8" fill="#111">Tumor Size (mm<tspan dy="-2.6" font-size="5">2</tspan><tspan dy="2.6">)</tspan></text>
<text x="366.3" y="394.3" font-size="8" fill="#111">Day after tumor inoculation</text>
<text x="272.3" y="205.3" font-size="8.8" fill="#111">Expt.<tspan dx="3.4">2</tspan></text>
<rect x="348.5" y="186" width="4.6" height="4.6" fill="#000"/>
<text x="360.8" y="191.1" font-size="8" fill="#111">No treatment</text>
<path d="M350.8,202.4 L353.4,207.3 L348.2,207.3 Z" fill="#000"/>
<text x="360.8" y="207.8" font-size="8" fill="#111">Spleen cells without IRR</text>
<circle cx="350.8" cy="221.7" r="2.3" fill="#000"/>
<text x="360.8" y="224.5" font-size="8" fill="#111">IRR only</text>
<circle cx="350.8" cy="238.2" r="1.9" fill="#fff" stroke="#000" stroke-width="0.9"/>
<text x="360.8" y="241" font-size="8" fill="#111">+ spleen cells</text>
<rect x="348.9" y="253.2" width="3.8" height="3.8" fill="#fff" stroke="#000" stroke-width="0.9"/>
<text x="360.8" y="257.9" font-size="8" fill="#111">+ spleen cells + PC61</text>
</svg>
</body></html>
